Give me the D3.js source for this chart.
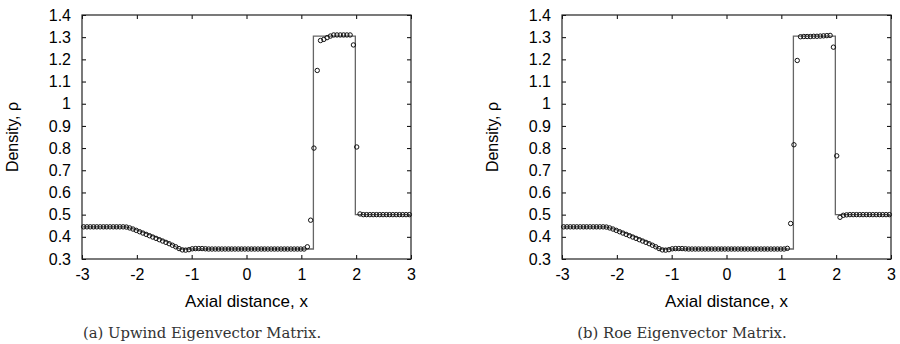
<!DOCTYPE html>
<html>
<head>
<meta charset="utf-8">
<script src="https://cdn.jsdelivr.net/npm/d3@7"></script>
<style>
  body { margin: 0; background: #fff; }
  svg { display: block; }
  .tick text { font-family: "Liberation Sans", Arial, sans-serif; font-size: 16px; fill: #000; }
</style>
</head>
<body>
<div id="chart"></div>
<script>
// cell centres of the 100-cell grid
var xCells = [
  -2.97, -2.91, -2.85, -2.79, -2.73, -2.67, -2.61, -2.55, -2.49, -2.43,
  -2.37, -2.31, -2.25, -2.19, -2.13, -2.07, -2.01, -1.95, -1.89, -1.83,
  -1.77, -1.71, -1.65, -1.59, -1.53, -1.47, -1.41, -1.35, -1.29, -1.23,
  -1.17, -1.11, -1.05, -0.99, -0.93, -0.87, -0.81, -0.75, -0.69, -0.63,
  -0.57, -0.51, -0.45, -0.39, -0.33, -0.27, -0.21, -0.15, -0.09, -0.03,
   0.03,  0.09,  0.15,  0.21,  0.27,  0.33,  0.39,  0.45,  0.51,  0.57,
   0.63,  0.69,  0.75,  0.81,  0.87,  0.93,  0.99,  1.05,  1.11,  1.17,
   1.23,  1.29,  1.35,  1.41,  1.47,  1.53,  1.59,  1.65,  1.71,  1.77,
   1.83,  1.89,  1.95,  2.01,  2.07,  2.13,  2.19,  2.25,  2.31,  2.37,
   2.43,  2.49,  2.55,  2.61,  2.67,  2.73,  2.79,  2.85,  2.91,  2.97
];

var rhoUpwind = [
  0.445, 0.445, 0.445, 0.445, 0.445, 0.445, 0.445, 0.445, 0.445, 0.445,
  0.445, 0.445, 0.445, 0.444, 0.440, 0.435, 0.429, 0.423, 0.417, 0.411,
  0.405, 0.399, 0.393, 0.387, 0.381, 0.375, 0.369, 0.362, 0.355, 0.347,
  0.341, 0.340, 0.342, 0.346, 0.347, 0.347, 0.347, 0.346, 0.345, 0.345,
  0.345, 0.345, 0.345, 0.345, 0.345, 0.345, 0.345, 0.345, 0.345, 0.345,
  0.345, 0.345, 0.345, 0.345, 0.345, 0.345, 0.345, 0.345, 0.345, 0.345,
  0.345, 0.345, 0.345, 0.345, 0.345, 0.345, 0.345, 0.345, 0.355, 0.475,
  0.800, 1.150, 1.285, 1.290, 1.298, 1.305, 1.310, 1.310, 1.310, 1.310,
  1.310, 1.310, 1.265, 0.805, 0.503, 0.500, 0.500, 0.500, 0.500, 0.500,
  0.500, 0.500, 0.500, 0.500, 0.500, 0.500, 0.500, 0.500, 0.500, 0.500
];

var rhoRoe = [
  0.445, 0.445, 0.445, 0.445, 0.445, 0.445, 0.445, 0.445, 0.445, 0.445,
  0.445, 0.445, 0.445, 0.444, 0.440, 0.435, 0.429, 0.423, 0.417, 0.411,
  0.405, 0.399, 0.393, 0.387, 0.381, 0.375, 0.369, 0.362, 0.355, 0.347,
  0.341, 0.340, 0.342, 0.346, 0.347, 0.347, 0.347, 0.346, 0.345, 0.345,
  0.345, 0.345, 0.345, 0.345, 0.345, 0.345, 0.345, 0.345, 0.345, 0.345,
  0.345, 0.345, 0.345, 0.345, 0.345, 0.345, 0.345, 0.345, 0.345, 0.345,
  0.345, 0.345, 0.345, 0.345, 0.345, 0.345, 0.345, 0.345, 0.348, 0.460,
  0.815, 1.195, 1.302, 1.303, 1.303, 1.303, 1.304, 1.304, 1.305, 1.306,
  1.307, 1.308, 1.255, 0.765, 0.488, 0.497, 0.499, 0.500, 0.500, 0.500,
  0.500, 0.500, 0.500, 0.500, 0.500, 0.500, 0.500, 0.500, 0.500, 0.500
];

// exact solution (line)
var exactX = [-3, -2.2, -2.0, -1.8, -1.6, -1.4, -1.22, 1.22, 1.22, 1.985, 1.985, 3];
var exactY = [0.445, 0.445, 0.431, 0.413, 0.394, 0.372, 0.345, 0.345, 1.305, 1.305, 0.500, 0.500];

var xTicks = [-3, -2, -1, 0, 1, 2, 3];
var yTicks = [0.3, 0.4, 0.5, 0.6, 0.7, 0.8, 0.9, 1.0, 1.1, 1.2, 1.3, 1.4];

var panels = [
  {offset: 0, values: rhoUpwind, caption: "(a) Upwind Eigenvector Matrix."},
  {offset: 480, values: rhoRoe, caption: "(b) Roe Eigenvector Matrix."}
];

var W = 900, H = 344;
var svg = d3.select("#chart").append("svg")
    .attr("width", W).attr("height", H);

var plotL = 82, plotR = 411, plotT = 15, plotB = 259;

panels.forEach(function(p) {
  var g = svg.append("g").attr("transform", "translate(" + p.offset + ",0)");

  var x = d3.scaleLinear().domain([-3, 3]).range([plotL, plotR]);
  var y = d3.scaleLinear().domain([0.3, 1.4]).range([plotB, plotT]);
  var fmt = function(d) { return String(+d.toFixed(1)); };

  // axes, ticks pointing inward on all four sides
  g.append("g").attr("transform", "translate(0," + plotB + ")")
    .call(d3.axisBottom(x).tickValues(xTicks).tickFormat(fmt).tickSizeInner(-4).tickSizeOuter(0).tickPadding(10));
  g.append("g").attr("transform", "translate(0," + plotT + ")")
    .call(d3.axisTop(x).tickValues(xTicks).tickFormat("").tickSizeInner(-4).tickSizeOuter(0));
  g.append("g").attr("transform", "translate(" + plotL + ",0)")
    .call(d3.axisLeft(y).tickValues(yTicks).tickFormat(fmt).tickSizeInner(-4).tickSizeOuter(0).tickPadding(11));
  g.append("g").attr("transform", "translate(" + plotR + ",0)")
    .call(d3.axisRight(y).tickValues(yTicks).tickFormat("").tickSizeInner(-4).tickSizeOuter(0));
  g.selectAll(".domain").remove();
  g.selectAll(".tick line").attr("stroke", "#000");

  g.append("rect")
    .attr("x", plotL).attr("y", plotT)
    .attr("width", plotR - plotL).attr("height", plotB - plotT)
    .attr("fill", "none").attr("stroke", "#222").attr("stroke-width", 1.2);

  // exact solution
  var line = d3.line().x(function(d) { return x(d[0]); }).y(function(d) { return y(d[1]); });
  g.append("path")
    .datum(d3.zip(exactX, exactY))
    .attr("d", line)
    .attr("fill", "none").attr("stroke", "#666").attr("stroke-width", 1.3);

  // numerical points
  g.selectAll("circle.pt")
    .data(d3.zip(xCells, p.values))
    .enter().append("circle")
    .attr("class", "pt")
    .attr("cx", function(d) { return x(d[0]); })
    .attr("cy", function(d) { return y(d[1]); })
    .attr("r", 2.2)
    .attr("fill", "none").attr("stroke", "#111").attr("stroke-width", 1);

  // axis titles
  g.append("text")
    .attr("x", (plotL + plotR) / 2).attr("y", 307)
    .attr("text-anchor", "middle")
    .style("font-family", "'Liberation Sans', Arial, sans-serif").style("font-size", "17px")
    .text("Axial distance, x");
  g.append("text")
    .attr("transform", "translate(18," + (plotT + plotB) / 2 + ") rotate(-90)")
    .attr("text-anchor", "middle")
    .style("font-family", "'Liberation Sans', Arial, sans-serif").style("font-size", "16px")
    .text("Density, ρ");

  // caption
  g.append("text")
    .attr("x", 202).attr("y", 338)
    .attr("text-anchor", "middle")
    .style("font-family", "'DejaVu Serif', serif").style("font-size", "14.8px")
    .attr("fill", "#333")
    .text(p.caption);
});
</script>
</body>
</html>
